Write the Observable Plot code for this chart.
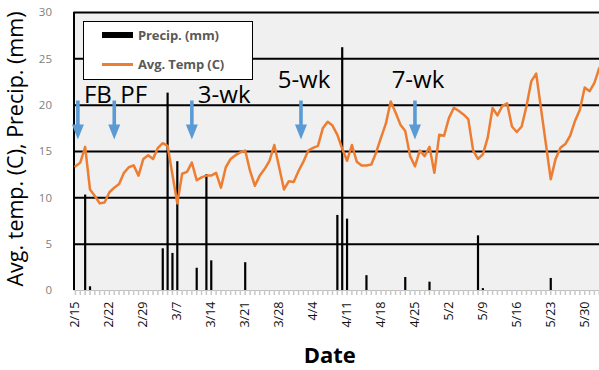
<!DOCTYPE html>
<html>
<head>
<meta charset="utf-8">
<script src="https://cdn.jsdelivr.net/npm/d3@7"></script>
<script src="https://cdn.jsdelivr.net/npm/@observablehq/plot@0.6"></script>
<style>
  body { margin: 0; background: #fff; font-family: "Open Sans", sans-serif; }
  #wrap { position: relative; width: 599px; height: 370px; overflow: hidden; }
  #legend { position: absolute; left: 83px; top: 21px; width: 170px; height: 59px; background: #fff;
            border: 1.3px solid #000; box-sizing: border-box; }
  .lg-item { position: absolute; left: 18px; height: 20px; width: 150px; }
  .lg-sw { position: absolute; left: 0; width: 31px; }
  .lg-tx { position: absolute; left: 36px; top: 0; line-height: 20px; font-size: 13px; font-weight: 700;
           color: #595959; white-space: nowrap; letter-spacing: -0.1px; }
</style>
</head>
<body>
<div id="wrap">
  <div id="chart"></div>
  <div id="legend">
    <div class="lg-item" style="top:3px"><div class="lg-sw" style="top:7px;height:6px;background:#000"></div><div class="lg-tx">Precip. (mm)</div></div>
    <div class="lg-item" style="top:32px"><div class="lg-sw" style="top:9px;height:2.5px;background:#ed7d31"></div><div class="lg-tx">Avg. Temp (C)</div></div>
  </div>
</div>
<script>
// ---- data ----
const tempStart = "2016-02-15";
const tempValues = [
  13.4, 13.8, 15.5, 10.9, 10.2, 9.4, 9.5, 10.6, 11.1, 11.5,
  12.7, 13.3, 13.5, 12.4, 14.2, 14.6, 14.2, 15.4, 15.9, 15.6,
  12.5, 9.4, 12.6, 12.8, 13.8, 11.9, 12.2, 12.4, 12.4, 12.7,
  11.1, 13.3, 14.2, 14.6, 14.9, 15.1, 12.9, 11.3, 12.4, 13.1,
  14.0, 15.7, 13.3, 10.9, 11.8, 11.7, 12.9, 13.9, 15.1, 15.4,
  15.6, 17.5, 18.2, 17.8, 16.8, 15.3, 14.0, 15.7, 13.9, 13.5,
  13.5, 13.6, 14.9, 16.5, 18.0, 20.4, 19.2, 17.9, 17.2, 14.5,
  13.4, 15.1, 14.5, 15.5, 12.7, 16.8, 16.7, 18.6, 19.7, 19.4,
  19.0, 18.5, 15.1, 14.2, 14.7, 16.5, 19.7, 18.9, 19.9, 20.2,
  17.7, 17.1, 17.7, 19.9, 22.6, 23.4, 19.6, 15.8, 12.0, 14.2,
  15.4, 15.8, 16.7, 18.3, 19.5, 21.9, 21.5, 22.4, 24.0
];
const precipDates = [
  "2016-02-17", "2016-02-18", "2016-03-04", "2016-03-05", "2016-03-06", "2016-03-07",
  "2016-03-11", "2016-03-13", "2016-03-14", "2016-03-21", "2016-04-09", "2016-04-10",
  "2016-04-11", "2016-04-15", "2016-04-23", "2016-04-28", "2016-05-08", "2016-05-09", "2016-05-23"
];
const precipValues = [10.3, 0.4, 4.5, 21.3, 4.0, 13.9, 2.4, 12.5, 3.2, 3.0, 8.1, 26.2, 7.7, 1.6, 1.4, 0.9, 5.9, 0.2, 1.3];
const xTickDates = [
  "2016-02-15", "2016-02-22", "2016-02-29", "2016-03-07", "2016-03-14", "2016-03-21", "2016-03-28", "2016-04-04",
  "2016-04-11", "2016-04-18", "2016-04-25", "2016-05-02", "2016-05-09", "2016-05-16", "2016-05-23", "2016-05-30"
];
const yTicks = [0, 5, 10, 15, 20, 25, 30];
const stageLabels = ["FB", "PF", "3-wk", "5-wk", "7-wk"];
const stageDates = ["2016-02-15T12:00", "2016-02-23T00:00", "2016-03-10T00:00", "2016-04-01T12:00", "2016-04-25T00:00"];

// ---- build tables ----
const parse = s => new Date((s.length === 10 ? s + "T00:00" : s) + "Z");
const t0 = parse(tempStart);
const temp = tempValues.map((v, i) => ({date: d3.utcDay.offset(t0, i), value: v}));
const precip = precipDates.map((d, i) => ({date: parse(d), value: precipValues[i]}));
const stages = stageLabels.map((l, i) => ({label: l, date: parse(stageDates[i])}));
const ticks = xTickDates.map(parse);

const dayMs = 864e5;
const xDomain = [new Date(+temp[0].date - 0.3 * dayMs), new Date(+temp[temp.length - 1].date + 0.05 * dayMs)];
const dailyTicks = d3.utcDay.range(d3.utcDay.ceil(xDomain[0]), xDomain[1]);

// down-arrow symbol (tip at origin)
const arrowSymbol = {
  draw(ctx) {
    ctx.moveTo(0, 0);
    ctx.lineTo(-6, -15);
    ctx.lineTo(-1.8, -15);
    ctx.lineTo(-1.8, -39);
    ctx.lineTo(1.8, -39);
    ctx.lineTo(1.8, -15);
    ctx.lineTo(6, -15);
    ctx.closePath();
  }
};

const fmt = d3.utcFormat("%-m/%-d");

const chart = Plot.plot({
  width: 599,
  height: 370,
  marginLeft: 73.5,
  marginRight: 0,
  marginTop: 12,
  marginBottom: 80,
  style: {fontFamily: "'Open Sans', sans-serif", background: "transparent", overflow: "visible"},
  x: {type: "utc", domain: xDomain},
  y: {domain: [0, 30]},
  marks: [
    Plot.frame({fill: "#f0f0f0", stroke: null}),
    Plot.gridY(yTicks.filter(v => v > 0), {stroke: "#000", strokeOpacity: 1, strokeWidth: 2}),
    Plot.ruleY([0], {stroke: "#bfbfbf", strokeWidth: 1}),
    Plot.axisX(dailyTicks, {tickSize: 5, stroke: "#c8c8c8", strokeWidth: 1.5, tickFormat: () => "", label: null}),
    Plot.axisX(ticks, {tickSize: 0, tickPadding: 11, tickRotate: -90, tickFormat: fmt, fontSize: 12.5, fill: "#111", label: null}),
    Plot.axisY(yTicks, {tickSize: 0, tickPadding: 22, fontSize: 11.5, fill: "#808080", label: null}),
    Plot.ruleX([xDomain[0]], {stroke: "#000", strokeWidth: 2}),
    Plot.ruleX(precip, {x: "date", y1: 0, y2: "value", stroke: "#000", strokeWidth: 2.2}),
    Plot.line(temp, {x: "date", y: "value", stroke: "#ed7d31", strokeWidth: 2.5}),
    Plot.dot(stages, {x: "date", y: 16.3, symbol: arrowSymbol, fill: "#5b9bd5", stroke: null}),
    Plot.text(stages.slice(0, 3), {x: "date", y: 20.2, text: "label", textAnchor: "start", dx: 6, lineAnchor: "bottom", fontSize: 24, fill: "#000"}),
    Plot.text(stages.slice(3), {x: "date", y: 21.8, text: "label", textAnchor: "middle", dx: 3, lineAnchor: "bottom", fontSize: 24, fill: "#000"}),
    Plot.text(["Avg. temp. (C), Precip. (mm)"], {text: d => d, frameAnchor: "left", textAnchor: "middle", lineAnchor: "middle", dx: -58, dy: -2.5, rotate: -90, fontSize: 21.5, fill: "#000"}),
    Plot.text(["Date"], {text: d => d, frameAnchor: "bottom", lineAnchor: "middle", dx: -7, dy: 65, fontSize: 22, fontWeight: "bold", fill: "#000"})
  ]
});
document.getElementById("chart").appendChild(chart);
</script>
</body>
</html>
